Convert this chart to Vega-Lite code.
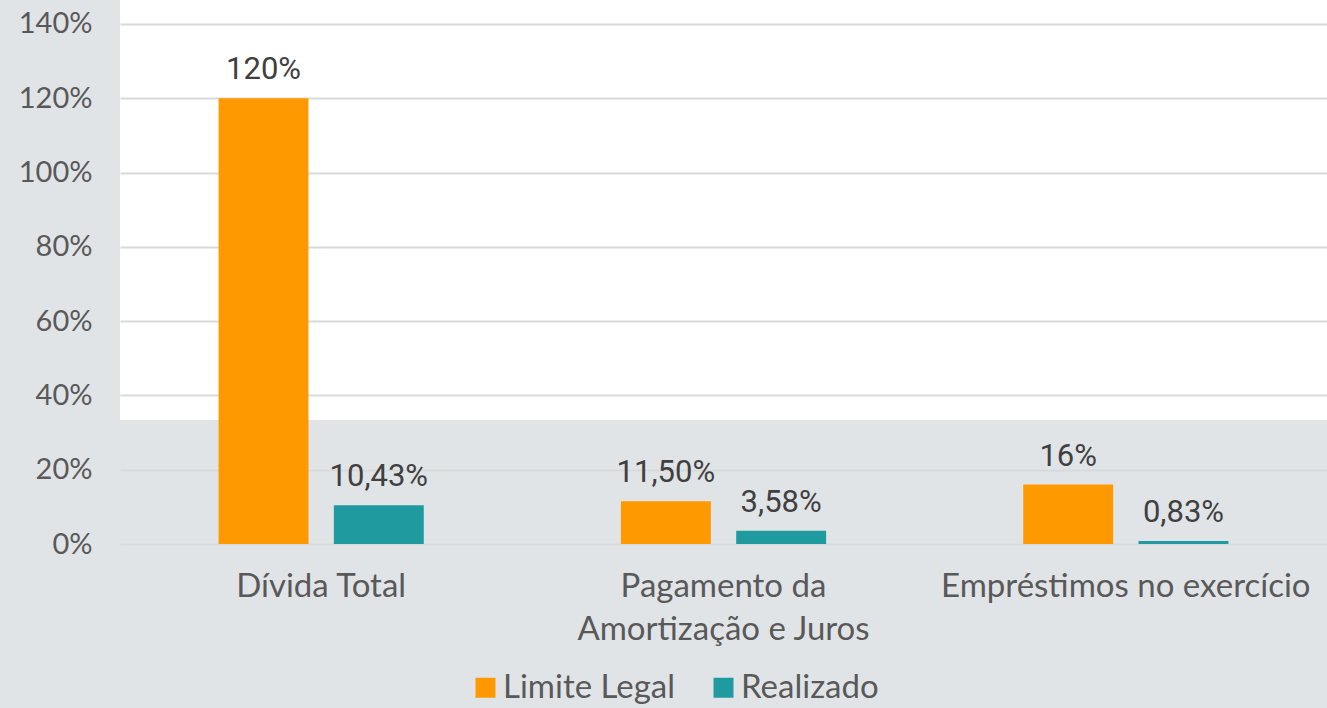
{
  "$schema": "https://vega.github.io/schema/vega-lite/v6.json",
  "autosize": "none",
  "width": 1207,
  "height": 544,
  "padding": {"left": 120, "top": 0, "right": 0, "bottom": 164},
  "background": "#E1E4E7",
  "config": {
    "view": {
      "stroke": null,
      "fill": {
        "gradient": "linear",
        "x1": 0, "y1": 0, "x2": 0, "y2": 1,
        "stops": [
          {"offset": 0, "color": "#FFFFFF"},
          {"offset": 0.772, "color": "#FFFFFF"},
          {"offset": 0.772, "color": "#E1E4E7"},
          {"offset": 1, "color": "#E1E4E7"}
        ]
      }
    },
    "font": "Lato"
  },
  "data": {
    "values": [
      {"categoria": "Dívida Total", "serie": "Limite Legal", "valor": 120, "rotulo": "120%"},
      {"categoria": "Dívida Total", "serie": "Realizado", "valor": 10.43, "rotulo": "10,43%"},
      {"categoria": "Pagamento da Amortização e Juros", "serie": "Limite Legal", "valor": 11.5, "rotulo": "11,50%"},
      {"categoria": "Pagamento da Amortização e Juros", "serie": "Realizado", "valor": 3.58, "rotulo": "3,58%"},
      {"categoria": "Empréstimos no exercício", "serie": "Limite Legal", "valor": 16, "rotulo": "16%"},
      {"categoria": "Empréstimos no exercício", "serie": "Realizado", "valor": 0.83, "rotulo": "0,83%"}
    ]
  },
  "encoding": {
    "x": {
      "field": "categoria",
      "type": "nominal",
      "sort": ["Dívida Total", "Pagamento da Amortização e Juros", "Empréstimos no exercício"],
      "scale": {"paddingInner": 0.49, "paddingOuter": 0.245},
      "axis": {
        "title": null,
        "labelAngle": 0,
        "domain": false,
        "ticks": false,
        "labelFontSize": 33,
        "labelColor": "#595959",
        "labelPadding": 26,
        "labelLimit": 0,
        "labelLineHeight": 43,
        "labelExpr": "datum.value == 'Pagamento da Amortização e Juros' ? ['Pagamento da', 'Amortização e Juros'] : datum.label"
      }
    },
    "xOffset": {
      "field": "serie",
      "type": "nominal",
      "scale": {"paddingInner": 0.22, "paddingOuter": 0}
    },
    "y": {
      "field": "valor",
      "type": "quantitative",
      "scale": {"domain": [0, 146.46], "nice": false, "zero": true},
      "axis": {
        "title": null,
        "values": [0, 20, 40, 60, 80, 100, 120, 140],
        "labelExpr": "datum.value + '%'",
        "domain": false,
        "ticks": false,
        "labelFontSize": 29,
        "labelColor": "#595959",
        "labelPadding": 28,
        "gridColor": "#D9D9D9",
        "gridWidth": 2
      }
    }
  },
  "layer": [
    {
      "mark": {"type": "bar"},
      "encoding": {
        "color": {
          "field": "serie",
          "type": "nominal",
          "scale": {"domain": ["Limite Legal", "Realizado"], "range": ["#FF9900", "#1F9BA0"]},
          "legend": {
            "orient": "none",
            "legendX": 349,
            "legendY": 671,
            "direction": "horizontal",
            "title": null,
            "symbolType": "square",
            "symbolSize": 400,
            "symbolStrokeWidth": 0,
            "labelFontSize": 33,
            "labelColor": "#595959",
            "labelOffset": 1,
            "labelLimit": 0,
            "columnPadding": 31
          }
        }
      }
    },
    {
      "mark": {
        "type": "text",
        "dy": -19,
        "baseline": "alphabetic",
        "fontSize": 31,
        "font": "Roboto",
        "color": "#404040"
      },
      "encoding": {
        "text": {"field": "rotulo"}
      }
    }
  ]
}
